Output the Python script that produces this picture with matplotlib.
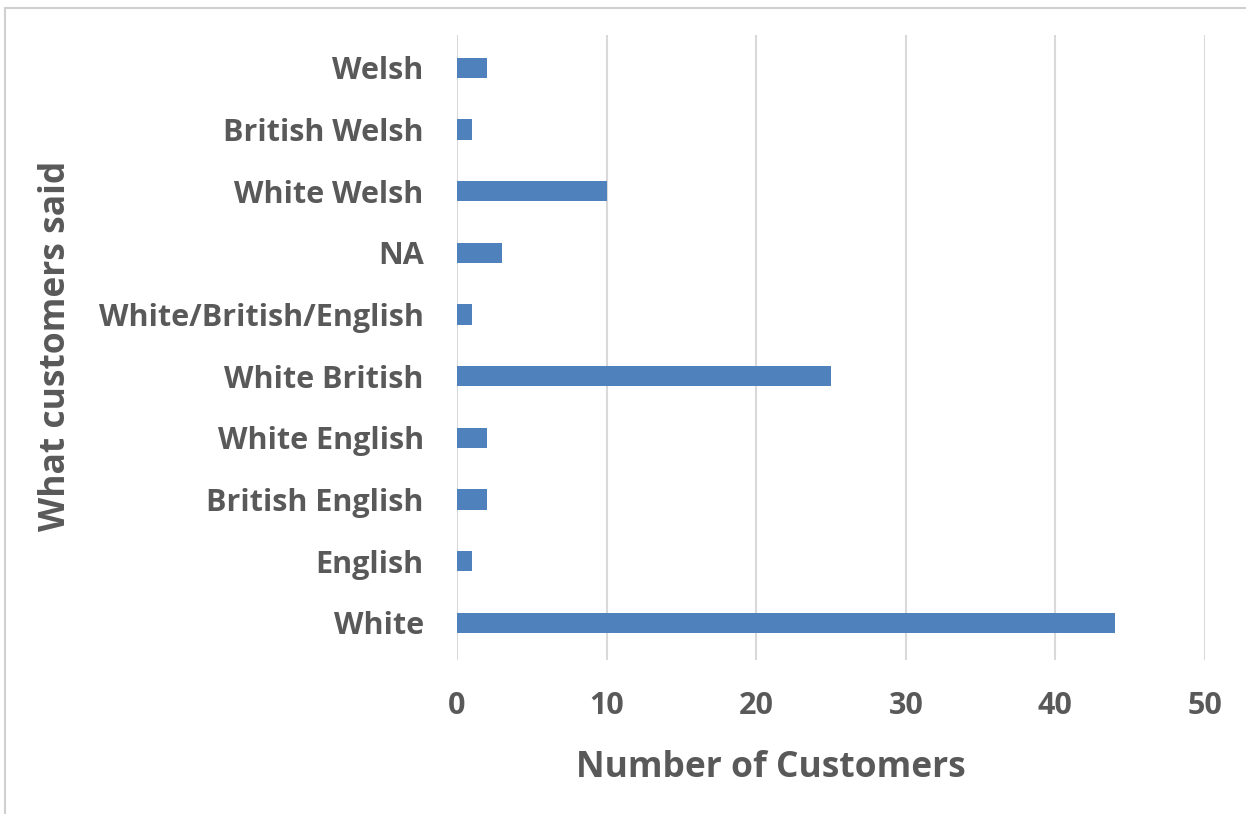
import matplotlib
matplotlib.use("Agg")
import matplotlib.pyplot as plt
from matplotlib.patches import Rectangle

# Data (bottom to top)
categories = ["White", "English", "British English", "White English", "White British",
              "White/British/English", "NA", "White Welsh", "British Welsh", "Welsh"]
counts = [44, 1, 2, 2, 25, 1, 3, 10, 1, 2]
x_ticks = [0, 10, 20, 30, 40, 50]

plt.rcParams['font.family'] = ['Open Sans', 'DejaVu Sans']
text_grey = '#595959'

fig = plt.figure(figsize=(12.46, 8.14), dpi=100)
ax = fig.add_axes([0.3668, 0.1892, 0.6003, 0.7678])

ax.barh(range(len(categories)), counts, height=0.33, color='#4F81BD', zorder=3)

ax.set_xlim(0, 50)
ax.set_ylim(-0.6, 9.53)
ax.set_xticks(x_ticks)
ax.set_yticks(range(len(categories)))
ax.set_yticklabels(categories)
ax.tick_params(axis='both', length=0, colors=text_grey, labelsize=22)
ax.tick_params(axis='y', pad=24)
ax.tick_params(axis='x', pad=22)
for lbl in ax.get_xticklabels() + ax.get_yticklabels():
    lbl.set_fontweight('bold')

ax.grid(axis='x', color='#d9d9d9', linewidth=1.5, zorder=0)
for side in ['top', 'right', 'bottom', 'left']:
    ax.spines[side].set_visible(False)

fig.text(0.619, 0.057, "Number of Customers", fontsize=25.5, fontweight='bold',
         color=text_grey, ha='center', va='center')
fig.text(0.045, 0.575, "What customers said", rotation=90, fontsize=25.5, fontweight='bold',
         color=text_grey, ha='center', va='center')

# thin frame around the chart area
fig.patches.append(Rectangle((0.004, -0.01), 1.1, 1.0, transform=fig.transFigure,
                             fill=False, edgecolor='#d0d0d0', linewidth=1.5))

fig.savefig("out.png", dpi=100)
